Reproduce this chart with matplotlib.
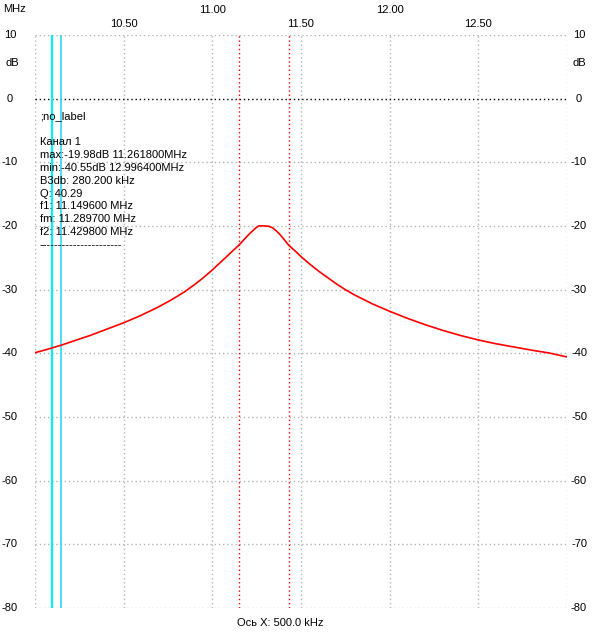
import matplotlib
matplotlib.use('Agg')
import matplotlib.pyplot as plt
import numpy as np

plt.rcParams['font.family'] = ['Liberation Sans', 'DejaVu Sans']

# Частоты (МГц) и уровень (дБ)
freq = [10.000, 10.066, 10.150, 10.235, 10.310, 10.405, 10.500, 10.593, 10.690, 10.763,
        10.840, 10.900, 10.950, 11.000, 11.050, 11.100, 11.150, 11.180, 11.210, 11.230,
        11.245, 11.262, 11.290, 11.320, 11.340, 11.360, 11.380, 11.400, 11.430, 11.470,
        11.500, 11.550, 11.600, 11.650, 11.700, 11.750, 11.800, 11.900, 12.000, 12.100,
        12.200, 12.300, 12.400, 12.500, 12.600, 12.700, 12.800, 12.900, 12.996, 13.000]
level = [-39.9, -39.4, -38.7, -37.9, -37.2, -36.2, -35.2, -34.1, -32.8, -31.7,
         -30.4, -29.2, -28.1, -26.9, -25.6, -24.3, -23.0, -22.1, -21.2, -20.7,
         -20.3, -19.98, -19.98, -20.05, -20.3, -20.75, -21.3, -21.95, -23.0, -24.0,
         -24.8, -26.0, -27.1, -28.1, -29.1, -30.0, -30.8, -32.2, -33.4, -34.5,
         -35.5, -36.4, -37.2, -37.9, -38.5, -39.0, -39.5, -39.95, -40.55, -40.5]

markers_cyan = [10.098, 10.149]
f1 = 11.1496
f2 = 11.4298

x_ticks = [10.5, 11.0, 11.5, 12.0, 12.5]
y_ticks = [10, 0, -10, -20, -30, -40, -50, -60, -70, -80]

info_lines = [
    'Канал 1',
    'max:-19.98dB 11.261800MHz',
    'min:-40.55dB 12.996400MHz',
    'B3db: 280.200 kHz',
    'Q: 40.29',
    'f1: 11.149600 MHz',
    'fm: 11.289700 MHz',
    'f2: 11.429800 MHz',
    '----------------------',
]

W, H = 602, 643
fig = plt.figure(figsize=(W / 100, H / 100), dpi=100)
x0, x1, y0, y1 = 35, 567, 35, 608
ax = fig.add_axes([x0 / W, 1 - y1 / H, (x1 - x0) / W, (y1 - y0) / H])
ax.set_xlim(10.0, 13.0)
ax.set_ylim(-80, 10)
for s in ax.spines.values():
    s.set_visible(False)
ax.set_xticks([])
ax.set_yticks([])

grid_c = '#b4b4b4'
for v in [10.0] + x_ticks + [13.0]:
    ax.axvline(v, color=grid_c, ls=(0, (1, 2)), lw=1, zorder=1)
for v in y_ticks:
    if v == 0:
        ax.axhline(v, color='black', ls=(0, (1, 2)), lw=1, zorder=1)
    else:
        ax.axhline(v, color=grid_c, ls=(0, (1, 2)), lw=1, zorder=1)

ax.axvline(markers_cyan[0], color='#00f0f8', lw=1.6, zorder=3)
ax.axvline(markers_cyan[1], color='#30d8f0', lw=1.2, zorder=3)
ax.axvline(f1, color='red', ls=(0, (1, 2)), lw=1, zorder=2)
ax.axvline(f2, color='red', ls=(0, (1, 2)), lw=1, zorder=2)

ax.plot(freq, level, color='red', lw=1.2, zorder=4)

fs = 8
# подписи оси Y слева и справа
for v in y_ticks:
    yp = y0 + (10 - v) / 90 * (y1 - y0)
    fig.text(10 / W, 1 - yp / H, str(v), ha='center', va='center', fontsize=fs)
    fig.text(579 / W, 1 - yp / H, str(v), ha='center', va='center', fontsize=fs)
fig.text(12 / W, 1 - 63 / H, 'dB', ha='center', va='center', fontsize=fs)
fig.text(579 / W, 1 - 63 / H, 'dB', ha='center', va='center', fontsize=fs)
fig.text(3 / W, 1 - 9 / H, 'MHz', ha='left', va='center', fontsize=fs)

# подписи оси X в два ряда
for i, v in enumerate(x_ticks):
    xp = x0 + (v - 10.0) / 3.0 * (x1 - x0)
    yp = 24 if i % 2 == 0 else 10
    fig.text(xp / W, 1 - yp / H, '%.2f' % v, ha='center', va='center', fontsize=fs)

fig.text(280 / W, 1 - 623 / H, 'Ось X: 500.0 kHz', ha='center', va='center', fontsize=fs)

fig.text(40 / W, 1 - 116 / H, ';no_label', ha='left', va='center', fontsize=fs)
for i, t in enumerate(info_lines):
    yp = 142 + i * 12.9
    fig.text(40 / W, 1 - yp / H, t, ha='left', va='center', fontsize=fs)

fig.savefig('out.png', dpi=100)
